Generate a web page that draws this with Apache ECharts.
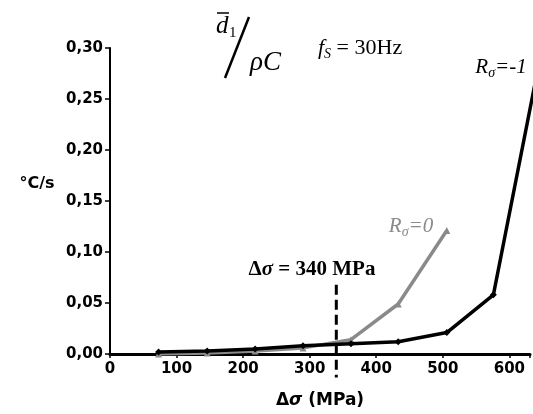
<!DOCTYPE html>
<html>
<head>
<meta charset="utf-8">
<script src="https://cdn.jsdelivr.net/npm/echarts@6/dist/echarts.min.js"></script>
<style>
html,body{margin:0;padding:0;background:#fff;}
#chart{width:533px;height:414px;}
</style>
</head>
<body>
<div id="chart"></div>
<script>
// ---- data ----
var xTicks = [0, 100, 200, 300, 400, 500, 600];
var yTicks = [0, 0.05, 0.10, 0.15, 0.20, 0.25, 0.30];
var stressBlack = [73, 146, 218, 290, 362, 433, 506, 576, 640];
var rateBlack   = [0.002, 0.003, 0.005, 0.008, 0.010, 0.012, 0.021, 0.058, 0.27];
var stressGray  = [73, 146, 218, 290, 362, 433, 506];
var rateGray    = [0.000, 0.001, 0.003, 0.006, 0.014, 0.049, 0.121];
var thresholdX  = [340, 340];
var thresholdY  = [0.068, -0.023];

function pairs(xs, ys){ return xs.map(function(x,i){ return [x, ys[i]]; }); }

var chart = echarts.init(document.getElementById('chart'), null, {renderer:'canvas'});
var sans = 'DejaVu Sans';
var serif = 'Liberation Serif';

var option = {
  backgroundColor: '#fff',
  animation: false,
  grid: {left: 110, right: 0, top: 48, bottom: 56, containLabel: false},
  xAxis: {
    type: 'value', min: 0, max: 631, interval: 100,
    name: '{n|Δ}{i|σ}{n| (MPa)}', nameLocation: 'middle', nameGap: 38,
    nameTextStyle: {
      rich: {
        n: {fontFamily: sans, fontWeight: 'bold', fontSize: 17, color: '#000'},
        i: {fontFamily: sans, fontWeight: 'bold', fontStyle: 'italic', fontSize: 17, color: '#000'}
      }
    },
    axisLine: {show: true, onZero: false, lineStyle: {color: '#000', width: 3}},
    axisTick: {show: true, length: 4, lineStyle: {color: '#000', width: 1.5}},
    splitLine: {show: false},
    axisLabel: {
      color: '#000', fontFamily: sans, fontWeight: 'bold', fontSize: 15, margin: 8,
      formatter: function(v){ return xTicks.indexOf(v) >= 0 ? String(v) : ''; }
    }
  },
  yAxis: {
    type: 'value', min: 0, max: 0.3, interval: 0.05,
    axisLine: {show: true, lineStyle: {color: '#000', width: 2}},
    axisTick: {show: true, length: 5, lineStyle: {color: '#000', width: 1.5}},
    splitLine: {show: false},
    axisLabel: {
      color: '#000', fontFamily: sans, fontWeight: 'bold', fontSize: 15, margin: 7,
      formatter: function(v){
        var t = yTicks.filter(function(k){ return Math.abs(k - v) < 1e-9; });
        return t.length ? t[0].toFixed(2).replace('.', ',') : '';
      }
    }
  },
  series: [
    {
      type: 'line', name: 'R0', data: pairs(stressGray, rateGray),
      symbol: 'triangle', symbolSize: 7, z: 2,
      itemStyle: {color: '#8a8a8a'},
      lineStyle: {color: '#8a8a8a', width: 3.5}
    },
    {
      type: 'line', name: 'R-1', data: pairs(stressBlack, rateBlack),
      symbol: 'diamond', symbolSize: 7, z: 3, clip: true,
      itemStyle: {color: '#000'},
      lineStyle: {color: '#000', width: 3.5}
    },
    {
      type: 'line', name: 'threshold', data: pairs(thresholdX, thresholdY),
      symbol: 'none', clip: false, silent: true, z: 4,
      lineStyle: {color: '#000', width: 3, type: [10, 5]}
    }
  ],
  graphic: [
    {type: 'text', style: {x: 37, y: 184, text: '°C/s', align: 'center', verticalAlign: 'middle',
      font: 'bold 16px "DejaVu Sans"', fill: '#000'}},
    {type: 'text', style: {x: 312, y: 270, align: 'center', verticalAlign: 'middle',
      text: '{n|Δ}{i|σ}{n| = 340 MPa}', fill: '#000',
      rich: {
        n: {fontFamily: serif, fontWeight: 'bold', fontSize: 21, fill: '#000'},
        i: {fontFamily: serif, fontWeight: 'bold', fontStyle: 'italic', fontSize: 21, fill: '#000'}
      }}},
    {type: 'text', style: {x: 411, y: 226, align: 'center', verticalAlign: 'middle',
      text: '{r|R}{s|σ}{r|=0}',
      rich: {
        r: {fontFamily: serif, fontStyle: 'italic', fontSize: 21, lineHeight: 26, fill: '#8a8a8a'},
        s: {fontFamily: serif, fontStyle: 'italic', fontSize: 14, lineHeight: 14, verticalAlign: 'bottom', fill: '#8a8a8a'}
      }}},
    {type: 'text', style: {x: 501, y: 67, align: 'center', verticalAlign: 'middle',
      text: '{r|R}{s|σ}{r|=-1}',
      rich: {
        r: {fontFamily: serif, fontStyle: 'italic', fontSize: 21, lineHeight: 26, fill: '#000'},
        s: {fontFamily: serif, fontStyle: 'italic', fontSize: 14, lineHeight: 14, verticalAlign: 'bottom', fill: '#000'}
      }}},
    {type: 'text', style: {x: 318, y: 48, align: 'left', verticalAlign: 'middle',
      text: '{f|f}{s|S}{n| = 30Hz}',
      rich: {
        f: {fontFamily: serif, fontStyle: 'italic', fontSize: 22, lineHeight: 26, fill: '#000'},
        s: {fontFamily: serif, fontStyle: 'italic', fontSize: 14, lineHeight: 14, verticalAlign: 'bottom', fill: '#000'},
        n: {fontFamily: serif, fontSize: 22, lineHeight: 26, fill: '#000'}
      }}},
    // d-bar_1 / rho C
    {type: 'text', style: {x: 216, y: 39, align: 'left', verticalAlign: 'bottom',
      text: 'd', font: 'italic 25px "Liberation Serif"', fill: '#000'}},
    {type: 'line', shape: {x1: 217, y1: 13, x2: 229, y2: 13}, style: {stroke: '#000', lineWidth: 1.5}},
    {type: 'text', style: {x: 229, y: 41, align: 'left', verticalAlign: 'bottom',
      text: '1', font: '15px "Liberation Serif"', fill: '#000'}},
    {type: 'line', shape: {x1: 225, y1: 78, x2: 249, y2: 17}, style: {stroke: '#000', lineWidth: 2.5}},
    {type: 'text', style: {x: 250, y: 76, align: 'left', verticalAlign: 'bottom',
      text: 'ρC', font: 'italic 27px "Liberation Serif"', fill: '#000'}}
  ]
};
chart.setOption(option);
</script>
</body>
</html>
